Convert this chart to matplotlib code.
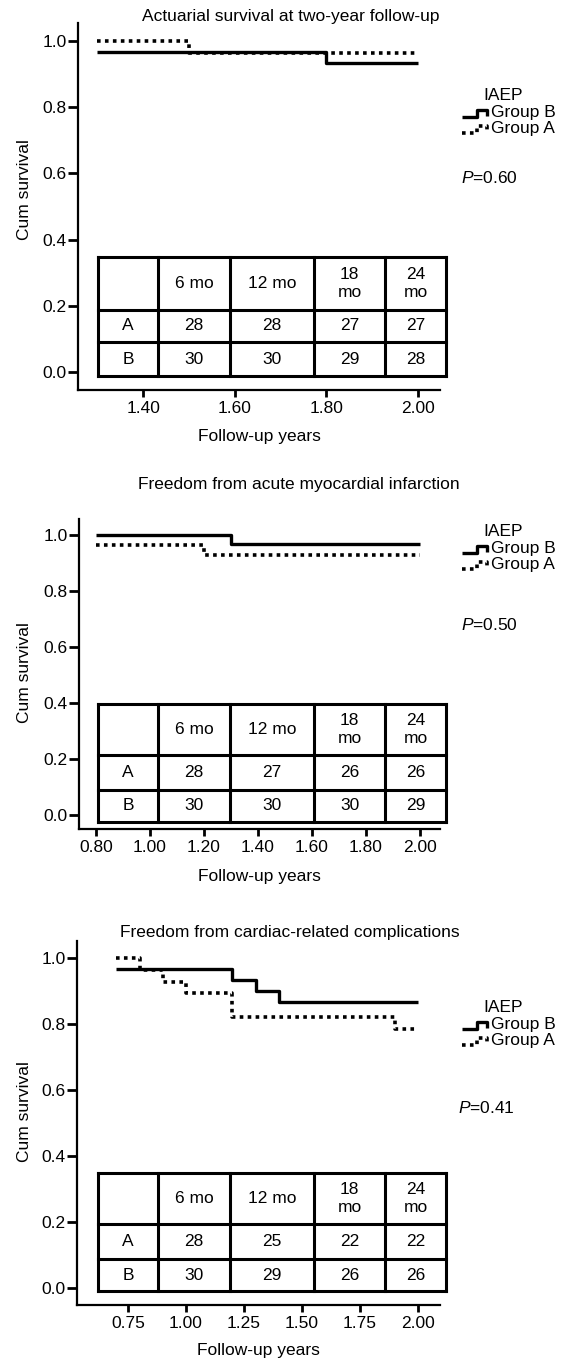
import matplotlib
matplotlib.use("Agg")
import matplotlib.pyplot as plt
from matplotlib.ticker import FormatStrFormatter

plt.rcParams["font.family"] = ["Liberation Sans", "DejaVu Sans"]
plt.rcParams["font.size"] = 12.5
plt.rcParams["mathtext.fontset"] = "custom"
plt.rcParams["mathtext.it"] = "Liberation Sans:italic"
plt.rcParams["mathtext.rm"] = "Liberation Sans"

# ---- data -------------------------------------------------------------
titles = ["Actuarial survival at two-year follow-up",
          "Freedom from acute myocardial infarction",
          "Freedom from cardiac-related complications"]
p_values = ["0.60", "0.50", "0.41"]
legend_title = "IAEP"
group_names = ["Group B", "Group A"]
y_label = "Cum survival"
x_label = "Follow-up years"

table_header = ["", "6 mo", "12 mo", "18\nmo", "24\nmo"]
row_labels = ["A", "B"]
at_risk_a = [[28, 28, 27, 27], [28, 27, 26, 26], [28, 25, 22, 22]]
at_risk_b = [[30, 30, 29, 28], [30, 30, 30, 29], [30, 29, 26, 26]]

# step curves (time, survival), steps-post
b1_t = [1.30, 1.80, 2.00]
b1_s = [0.967, 0.933, 0.933]
a1_t = [1.30, 1.50, 2.00]
a1_s = [1.000, 0.964, 0.964]

b2_t = [0.80, 1.30, 2.00]
b2_s = [1.000, 0.967, 0.967]
a2_t = [0.80, 1.20, 2.00]
a2_s = [0.964, 0.929, 0.929]

b3_t = [0.70, 1.20, 1.30, 1.40, 2.00]
b3_s = [0.967, 0.933, 0.900, 0.867, 0.867]
a3_t = [0.70, 0.80, 0.90, 1.00, 1.20, 1.90, 2.00]
a3_s = [1.000, 0.964, 0.929, 0.893, 0.821, 0.786, 0.786]

xticks1 = [1.40, 1.60, 1.80, 2.00]
xticks2 = [0.80, 1.00, 1.20, 1.40, 1.60, 1.80, 2.00]
xticks3 = [0.75, 1.00, 1.25, 1.50, 1.75, 2.00]
yticks = [0.0, 0.2, 0.4, 0.6, 0.8, 1.0]

curves = [((b1_t, b1_s), (a1_t, a1_s)),
          ((b2_t, b2_s), (a2_t, a2_s)),
          ((b3_t, b3_s), (a3_t, a3_s))]
xticks_all = [xticks1, xticks2, xticks3]

# ---- layout (pixels) --------------------------------------------------
W, H = 564, 1362
boxes = [(78, 23, 440, 390), (79, 519, 440, 829), (77, 941, 440, 1305)]
xlims = [(1.258, 2.048), (0.737, 2.074), (0.53, 2.095)]
ylims = [(-0.055, 1.055), (-0.05, 1.057), (-0.052, 1.052)]
title_pos = [(291, 17), (299, 485), (290, 932)]
xlabel_y = [437, 877, 1350]
ylabel_y = [190, 673, 1112]
legend_y = [95, 531, 1007]
p_pos = [(461, 178), (461, 625), (458, 1108)]
table_cols = [98, 158, 230, 314, 385, 446]
table_rows = [[257, 310, 342, 376], [704, 755, 790, 822], [1173, 1224, 1259, 1291]]

solid_kw = dict(color="black", lw=2.4, solid_capstyle="butt")
dot_kw = dict(color="black", lw=2.6, linestyle=(0, (1, 1.2)), dash_capstyle="butt")

fig = plt.figure(figsize=(W / 100, H / 100), dpi=100)
fig.patch.set_facecolor("white")

ov = fig.add_axes([0, 0, 1, 1], zorder=5)
ov.set_xlim(0, W)
ov.set_ylim(H, 0)
ov.axis("off")
ov.patch.set_alpha(0)

for i in range(3):
    l, t, r, b = boxes[i]
    ax = fig.add_axes([l / W, 1 - b / H, (r - l) / W, (b - t) / H])
    (bt, bs), (at, as_) = curves[i]
    ax.plot(bt, bs, drawstyle="steps-post", **solid_kw)
    ax.plot(at, as_, drawstyle="steps-post", **dot_kw)
    ax.set_xlim(*xlims[i])
    ax.set_ylim(*ylims[i])
    ax.set_xticks(xticks_all[i])
    ax.set_yticks(yticks)
    ax.xaxis.set_major_formatter(FormatStrFormatter("%.2f"))
    ax.yaxis.set_major_formatter(FormatStrFormatter("%.1f"))
    for s in ["top", "right"]:
        ax.spines[s].set_visible(False)
    for s in ["left", "bottom"]:
        ax.spines[s].set_linewidth(1.6)
    ax.tick_params(axis="y", length=7, width=2, pad=1)
    ax.tick_params(axis="x", length=5, width=2, pad=3)

    # titles and axis labels
    ov.text(title_pos[i][0], title_pos[i][1], titles[i], ha="center", va="center")
    ov.text((l + r) / 2, xlabel_y[i], x_label, ha="center", va="center")
    ov.text(25, ylabel_y[i], y_label, ha="center", va="center", rotation=90)

    # legend
    ly = legend_y[i]
    ov.text(503, ly, legend_title, ha="center", va="center")
    for k, name in enumerate(group_names):
        yy = ly + 18 + 16 * k
        kw = solid_kw if k == 0 else dot_kw
        ov.plot([462, 477, 477, 487, 487], [yy + 4, yy + 4, yy - 3, yy - 3, yy + 3], **kw)
        ov.text(491, yy, name, ha="left", va="center")
    ov.text(p_pos[i][0], p_pos[i][1], "$P$=" + p_values[i], ha="left", va="center")

    # number-at-risk table
    rows = table_rows[i]
    ov.fill_between([table_cols[0], table_cols[-1]], rows[0], rows[-1], color="white", zorder=1)
    for y in rows:
        ov.plot([table_cols[0], table_cols[-1]], [y, y], color="black", lw=2.2, zorder=2)
    for x in table_cols:
        ov.plot([x, x], [rows[0], rows[-1]], color="black", lw=2.2, zorder=2)
    cx = [(table_cols[j] + table_cols[j + 1]) / 2 for j in range(5)]
    cy = [(rows[j] + rows[j + 1]) / 2 for j in range(3)]
    for j, h in enumerate(table_header):
        ov.text(cx[j], cy[0], h, ha="center", va="center", linespacing=1.2, zorder=3)
    data_rows = [at_risk_a[i], at_risk_b[i]]
    for rr in range(2):
        ov.text(cx[0], cy[rr + 1], row_labels[rr], ha="center", va="center", zorder=3)
        for j, v in enumerate(data_rows[rr]):
            ov.text(cx[j + 1], cy[rr + 1], str(v), ha="center", va="center", zorder=3)

fig.savefig("out.png", dpi=100)
